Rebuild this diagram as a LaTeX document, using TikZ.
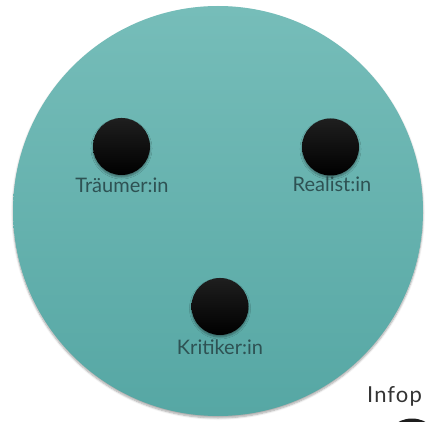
\documentclass[tikz,border=0pt]{standalone}
\usepackage{fontspec}
\setmainfont{Lato}
\usetikzlibrary{shadows.blur}
\definecolor{fieldtop}{HTML}{76BDB9}
\definecolor{fieldbottom}{HTML}{56A7A4}
\definecolor{labelteal}{HTML}{2E5253}

\begin{document}
\begin{tikzpicture}[x=1pt,y=-1pt,
  font=\fontsize{20}{22}\selectfont,
  field/.style={circle,inner sep=0pt,minimum size=410pt,top color=fieldtop,bottom color=fieldbottom,
    blur shadow={shadow xshift=0pt,shadow yshift=-2pt,shadow blur steps=6,shadow opacity=35}},
  role/.style={circle,inner sep=0pt,minimum size=57pt,top color=black!88,bottom color=black,
    blur shadow={shadow xshift=0pt,shadow yshift=-2pt,shadow blur steps=5,shadow opacity=40}},
  rolelabel/.style={text=labelteal,inner sep=0pt,anchor=base}]
  \useasboundingbox (0,0) rectangle (426,422);
  \node[field] (team) at (218,211) {};
  \node[role] (dreamer) at (121.5,146.5) {};
  \node[role] (realist) at (330.5,147) {};
  \node[role] (critic) at (220,306.5) {};
  \node[rolelabel] (dreamerlabel) at (122,193) {Träumer:in};
  \node[rolelabel] (realistlabel) at (332,192) {Realist:in};
  \node[rolelabel] (criticlabel) at (220,354) {Kritiker:in};
  % cut off at the lower right edge
  \node[text=black!80,inner sep=0pt,anchor=base west,
    font=\fontsize{22}{24}\selectfont\addfontfeatures{LetterSpace=5}] (pool) at (367,402) {Infop};
  \node[role] (pooldot) at (412,447) {};
\end{tikzpicture}
\end{document}
